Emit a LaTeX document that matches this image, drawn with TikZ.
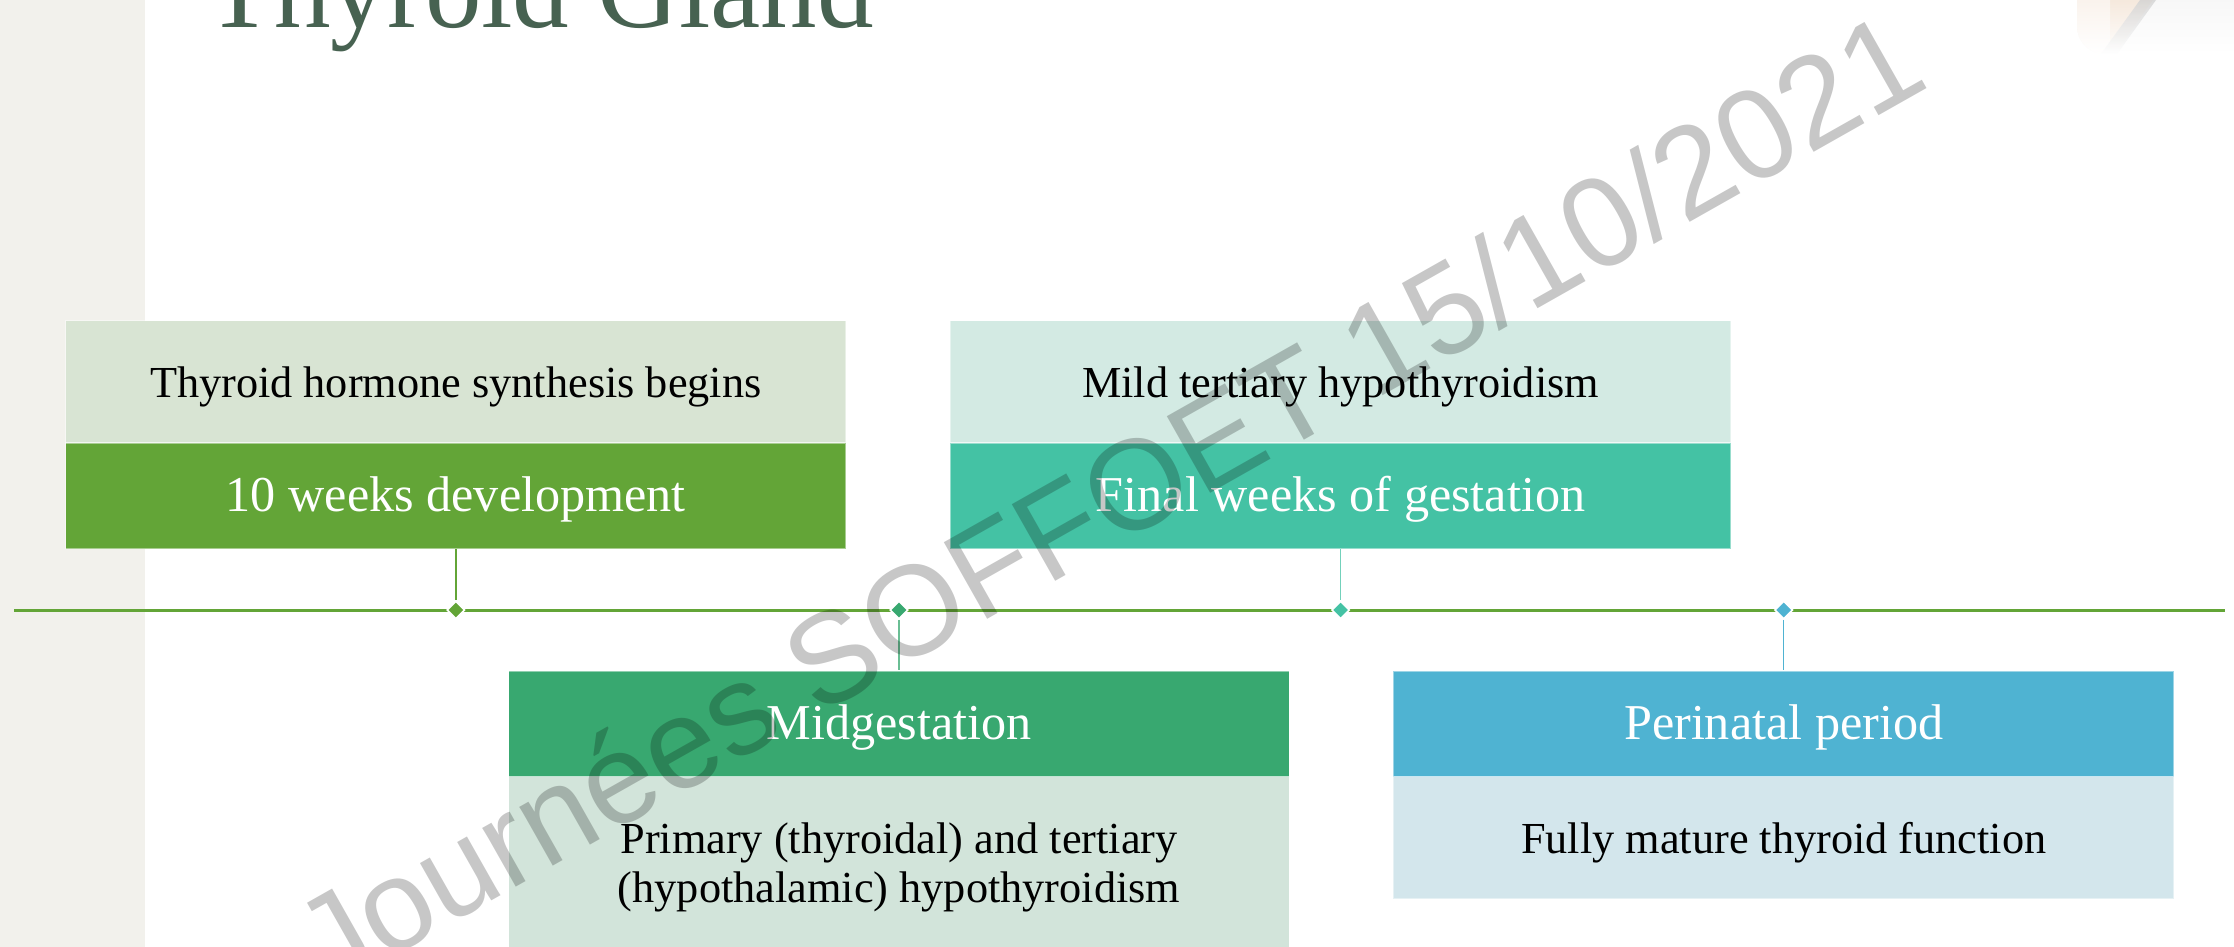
\documentclass[tikz,border=0pt]{standalone}
\usepackage{fontspec}
\setmainfont{Liberation Serif}
\newfontfamily\wmfont{Liberation Sans}
\usetikzlibrary{shapes.geometric}
\definecolor{side}{HTML}{F2F1EC}
\definecolor{titlec}{HTML}{476251}
\definecolor{gA}{HTML}{63A537}\definecolor{gAl}{HTML}{D8E4D3}
\definecolor{gB}{HTML}{38A870}\definecolor{gBl}{HTML}{D2E4DA}
\definecolor{gC}{HTML}{44C2A4}\definecolor{gCl}{HTML}{D3EAE3}
\definecolor{gD}{HTML}{4FB3D2}\definecolor{gDl}{HTML}{D3E6EC}
\definecolor{peach}{HTML}{EED8C3}
\definecolor{peachl}{HTML}{F6EADF}
\begin{document}
\begin{tikzpicture}[x=0.5pt,y=-0.5pt,
  hdr/.style={rectangle, inner sep=0pt, minimum width=390.25pt, minimum height=52.75pt,
    text=white, font=\fontsize{25.1pt}{28pt}\selectfont, text height=21.45pt, text depth=5.45pt,
    draw=white, draw opacity=0.45, line width=0.6pt},
  dsc/.style={rectangle, inner sep=0pt, minimum width=390.25pt, text=black, align=center,
    font=\fontsize{22.15pt}{24.5pt}\selectfont,
    draw=white, draw opacity=0.45, line width=0.6pt},
  dscone/.style={dsc, text height=20.6pt, text depth=4.8pt},
  tlmark/.style={diamond, inner sep=0pt, minimum width=9pt, minimum height=9pt,
    draw=white, line width=0.8pt},
  link/.style={line width=0.75pt},
  timeline/.style={gA, line width=1.5pt}
]
\useasboundingbox (0,0) rectangle (2234,947);
% background
\fill[white] (0,0) rectangle (2234,947);
\fill[side] (0,0) rectangle (145,947);
% top-right decoration
\begin{scope}
  \clip[rounded corners=14pt] (2077,-40) rectangle (2280,54);
  \shade[top color=peach, bottom color=white] (2077,-40) rectangle (2280,54);
  \shade[top color=peachl, bottom color=white] (2077,-40) rectangle (2110,54);
  \shade[top color=white!94!gray, bottom color=white] (2153,0) -- (2280,0) -- (2280,54) -- (2115,54) -- cycle;
  \shade[top color=gray!35, bottom color=white, opacity=0.8] (2140,0) -- (2156,0) -- (2117,54) -- (2101,54) -- cycle;
\end{scope}
% title
\node[anchor=base west, inner sep=0pt, text=titlec, font=\fontsize{56.5pt}{60pt}\selectfont] (title) at (205,28) {Thyroid Gland};
% timeline
\coordinate (tlA) at (14,610);
\coordinate (tlB) at (2225,610);
\draw[timeline] (tlA) -- (tlB);
% boxes
\node[dscone, fill=gAl, minimum height=61.2pt] (d1) at (455.8,381.8) {Thyroid hormone synthesis begins};
\node[hdr, fill=gA] (h1) at (455.8,495.75) {10 weeks development};
\node[dscone, fill=gCl, minimum height=61.2pt] (d2) at (1340.6,381.8) {Mild tertiary hypothyroidism};
\node[hdr, fill=gC] (h2) at (1340.6,495.75) {Final weeks of gestation};
\node[hdr, fill=gB] (h3) at (899,723.75) {Midgestation};
\node[dsc, fill=gBl, minimum height=90.7pt] (d3) at (899,867.2) {Primary (thyroidal) and tertiary\\(hypothalamic) hypothyroidism};
\node[hdr, fill=gD] (h4) at (1783.7,723.75) {Perinatal period};
\node[dscone, fill=gDl, minimum height=61.25pt] (d4) at (1783.7,837.75) {Fully mature thyroid function};
% markers
\node[tlmark, fill=gA] (m1) at (455.8,610) {};
\node[tlmark, fill=gB] (m2) at (899,610) {};
\node[tlmark, fill=gC] (m3) at (1340.6,610) {};
\node[tlmark, fill=gD] (m4) at (1783.7,610) {};
% connectors
\draw[link, gA] (h1.south) -- (m1.north);
\draw[link, gB!75!white] (m2.south) -- (h3.north);
\draw[link, gC!75!white] (h2.south) -- (m3.north);
\draw[link, gD] (m4.south) -- (h4.north);
% watermark
\node[rotate=29.5, anchor=base, inner sep=0pt, text=black, text opacity=0.22,
  font=\wmfont\fontsize{64pt}{70pt}\selectfont] (wm) at (1130.5,539) {Journées SOFFOET 15/10/2021};
\end{tikzpicture}
\end{document}
